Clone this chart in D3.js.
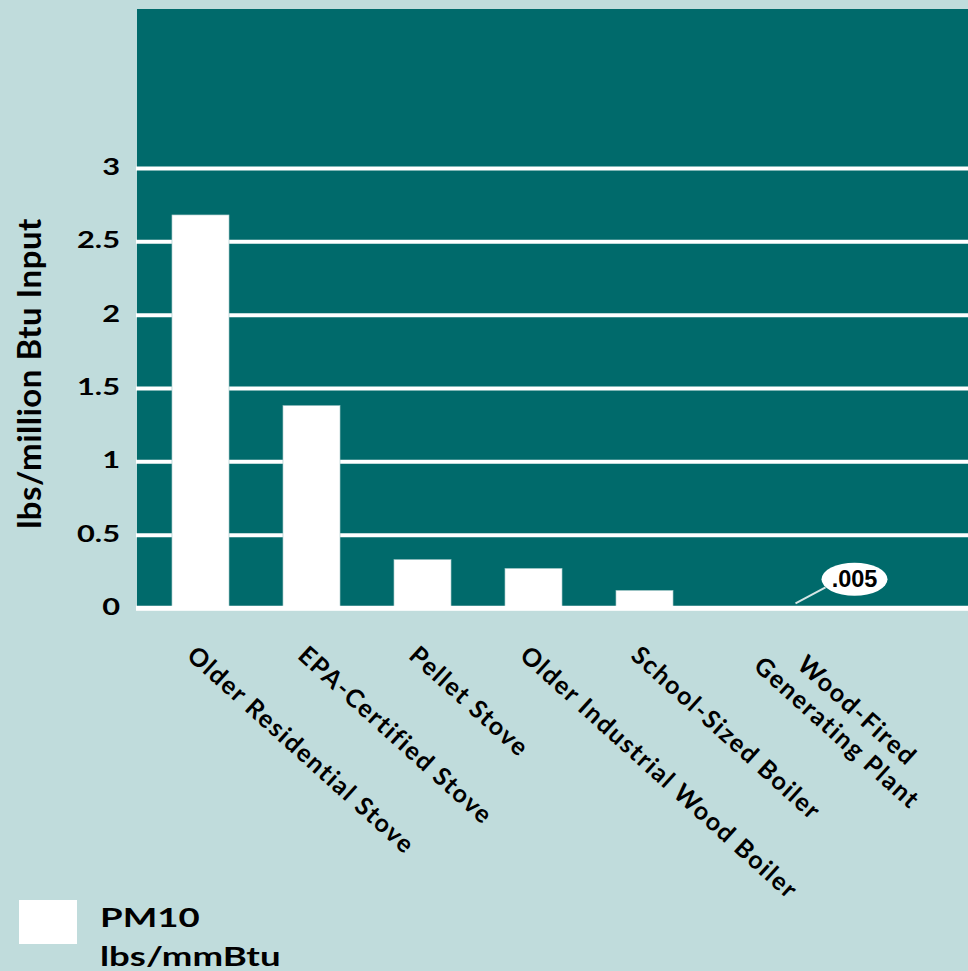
<!DOCTYPE html>
<html>
<head>
<meta charset="utf-8">
<script src="https://cdn.jsdelivr.net/npm/d3@7"></script>
<style>
  html, body { margin: 0; padding: 0; background: #c0dcdc; }
  svg { display: block; }
  text { font-family: Lato, "Open Sans", sans-serif; font-weight: 700; fill: #000; }
</style>
</head>
<body>
<svg id="chart" width="968" height="971"></svg>
<script>
// PM10 emissions by wood-burning appliance type
const categories = [
  "Older Residential Stove",
  "EPA-Certified Stove",
  "Pellet Stove",
  "Older Industrial Wood Boiler",
  "School-Sized Boiler",
  "Wood-Fired\nGenerating Plant"
];
const pm10 = [2.68, 1.38, 0.33, 0.27, 0.12, 0.005];
const yTicks = [0, 0.5, 1, 1.5, 2, 2.5, 3];
const yTickLabels = ["0", "0.5", "1", "1.5", "2", "2.5", "3"];
const calloutLabel = ".005";
const yTitle = "lbs/million Btu Input";
const legendLines = ["PM10", "lbs/mmBtu"];

const W = 968, H = 971;
const plot = { left: 137, right: 968, top: 9, bottom: 608 };
const plotFill = "#006a6b";
const wide = 1.4; // horizontal stretch for the heavy display type

const svg = d3.select("#chart");

const y = d3.scaleLinear().domain([0, 3]).range([plot.bottom, 168]);
const yTop = y.invert(plot.top);

const x = d3.scaleBand()
  .domain(categories)
  .range([plot.left, 819])
  .paddingInner(0.486)
  .paddingOuter(0.315);

// plot background
svg.append("rect")
  .attr("x", plot.left).attr("y", y(yTop))
  .attr("width", plot.right - plot.left)
  .attr("height", y(0) - y(yTop))
  .attr("fill", plotFill);

// gridlines + tick labels
const yAxis = d3.axisLeft(y)
  .tickValues(yTicks)
  .tickFormat((d, i) => yTickLabels[i])
  .tickSizeInner(-(plot.right - plot.left + 1))
  .tickSizeOuter(0)
  .tickPadding(16);

const gy = svg.append("g")
  .attr("transform", `translate(${plot.left - 1},0)`)
  .call(yAxis);
gy.select(".domain").remove();
gy.selectAll(".tick line")
  .attr("stroke", "#fff")
  .attr("stroke-width", d => d === 0 ? 4.5 : 4);
gy.selectAll(".tick text")
  .attr("font-size", 22)
  .attr("font-family", "Lato, 'Open Sans', sans-serif")
  .attr("font-weight", 700)
  .attr("fill", "#000")
  .attr("x", -16 / wide)
  .attr("dy", "0.3em")
  .attr("transform", `scale(${wide},1)`);

// bars
svg.append("g").selectAll("rect")
  .data(categories)
  .join("rect")
  .attr("x", d => x(d))
  .attr("y", (d, i) => y(pm10[i]))
  .attr("width", x.bandwidth())
  .attr("height", (d, i) => y(0) - y(pm10[i]))
  .attr("fill", "#fff")
  .attr("stroke", "#9cc4c4")
  .attr("stroke-width", 0.6);

// baseline drawn over the bar feet
svg.append("line")
  .attr("x1", plot.left - 1).attr("x2", plot.right)
  .attr("y1", y(0)).attr("y2", y(0))
  .attr("stroke", "#fff").attr("stroke-width", 4.5);

// callout for the smallest value
const last = categories.length - 1;
const cx = x(categories[last]) + x.bandwidth() / 2;
const cy = y(pm10[last]);
const callout = svg.append("g");
callout.append("line")
  .attr("x1", cx + 40).attr("y1", cy - 4)
  .attr("x2", cx + 70).attr("y2", cy - 20)
  .attr("stroke", "#d6e6e6").attr("stroke-width", 2);
callout.append("ellipse")
  .attr("cx", cx + 99).attr("cy", cy - 28)
  .attr("rx", 33).attr("ry", 16.5)
  .attr("fill", "#fff");
callout.append("text")
  .attr("x", cx + 99).attr("y", cy - 28)
  .attr("text-anchor", "middle")
  .attr("dominant-baseline", "central")
  .style("font-family", "'Liberation Sans', Arial, sans-serif")
  .attr("font-size", 23.5)
  .text(calloutLabel);

// rotated category labels
const angle = 42;
const lineH = 30;
const labels = svg.append("g");
categories.forEach((c, i) => {
  const lines = c.split("\n");
  const g = labels.append("g")
    .attr("transform", `translate(${x(c) + x.bandwidth() / 2 - 3},644) rotate(${angle})`);
  const t = g.append("text")
    .attr("font-size", 25)
    .attr("letter-spacing", 1.6);
  const spans = lines.map((ln, k) => t.append("tspan")
    .attr("x", 0)
    .attr("y", (k - (lines.length - 1)) * lineH)
    .attr("dy", "0.72em")
    .text(ln));
  if (lines.length > 1) {
    const widths = spans.map(s => s.node().getComputedTextLength());
    const ref = widths[widths.length - 1];
    const mid = 16 + ref / 2;
    spans.forEach(s => s.attr("x", mid).attr("text-anchor", "middle"));
  }
});

// y-axis title
svg.append("text")
  .attr("transform", `translate(41,${(220 + 527) / 2}) rotate(-90)`)
  .attr("text-anchor", "middle")
  .attr("font-size", 33)
  .attr("letter-spacing", 0.5)
  .text(yTitle);

// legend
const legend = svg.append("g");
legend.append("rect")
  .attr("x", 19).attr("y", 900)
  .attr("width", 58).attr("height", 44)
  .attr("fill", "#fff");
legend.selectAll("text.leg")
  .data(legendLines)
  .join("text")
  .attr("class", "leg")
  .attr("transform", `translate(100,0) scale(${wide - 0.02},1)`)
  .attr("x", 0)
  .attr("y", (d, i) => 927 + i * 39)
  .attr("font-size", 26.5)
  .text(d => d);
</script>
</body>
</html>
